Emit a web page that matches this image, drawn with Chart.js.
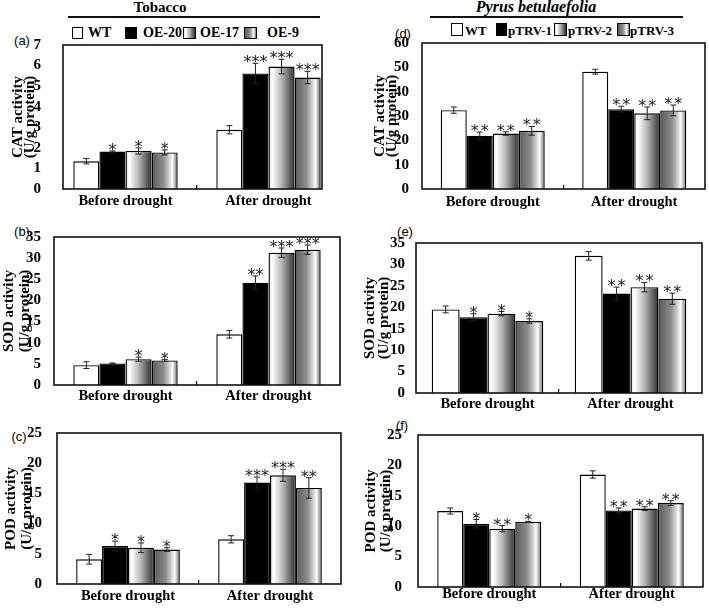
<!DOCTYPE html>
<html>
<head>
<meta charset="utf-8">
<script src="https://cdn.jsdelivr.net/npm/chart.js@4.4.1/dist/chart.umd.min.js"></script>
<style>
    html, body { margin: 0; padding: 0; background: #fff; }
    #fig { position: relative; width: 709px; height: 608px; overflow: hidden; font-family: 'Liberation Serif', 'Times New Roman', serif; }
    #fig canvas { position: absolute; left: 0; top: 0; }
    .txt { position: absolute; font-weight: bold; color: #000; white-space: nowrap; line-height: 1; transform: translate(0, -50%); }
    .mid { transform: translate(-50%, -50%); }
    .rule { position: absolute; height: 2px; background: #111; }
    .sw { position: absolute; border: 1px solid #000; box-sizing: border-box; }
    .tag { position: absolute; font-family: 'Liberation Sans', Arial, sans-serif; font-size: 13px; color: #000; line-height: 1; transform: translate(-50%, -50%); }
    .sweep { background: linear-gradient(to right, #e8e8e8 0%, #ffffff 15%, #b5b5b5 50%, #303030 100%); }
    .tube { background: linear-gradient(to right, #5a5a5a 0%, #8c8c8c 45%, #d8d8d8 70%, #ffffff 80%, #b0b0b0 90%, #6a6a6a 100%); }
</style>
</head>
<body>
<div id="fig">
    <div class="txt mid" style="left:160px;top:7px;font-size:15px">Tobacco</div>
    <div class="rule" style="left:68px;top:16px;width:252px"></div>
    <div class="txt mid" style="left:536px;top:7px;font-size:16px;font-style:italic">Pyrus betulaefolia</div>
    <div class="rule" style="left:430px;top:16px;width:253px"></div>

    <div class="sw" style="left:72px;top:27px;width:11px;height:12px;background:#fff"></div>
    <div class="txt" style="left:88px;top:33px;font-size:14px">WT</div>
    <div class="sw" style="left:125px;top:27px;width:12px;height:12px;background:#000"></div>
    <div class="txt" style="left:143px;top:33px;font-size:14px">OE-20</div>
    <div class="sw sweep" style="left:183px;top:27px;width:13px;height:12px"></div>
    <div class="txt" style="left:200px;top:33px;font-size:14px">OE-17</div>
    <div class="sw tube" style="left:244px;top:27px;width:13px;height:12px"></div>
    <div class="txt" style="left:267px;top:33px;font-size:14px">OE-9</div>

    <div class="sw" style="left:451px;top:23px;width:12px;height:13px;background:#fff"></div>
    <div class="txt" style="left:465px;top:30px;font-size:13px">WT</div>
    <div class="sw" style="left:496px;top:23px;width:11px;height:13px;background:#000"></div>
    <div class="txt" style="left:508px;top:30px;font-size:13px">pTRV-1</div>
    <div class="sw sweep" style="left:554px;top:23px;width:13px;height:13px"></div>
    <div class="txt" style="left:568px;top:30px;font-size:13px">pTRV-2</div>
    <div class="sw tube" style="left:617px;top:23px;width:13px;height:13px"></div>
    <div class="txt" style="left:630px;top:30px;font-size:13px">pTRV-3</div>

    <div class="tag" style="left:22px;top:40px">(a)</div>
    <div class="tag" style="left:22px;top:231px">(b)</div>
    <div class="tag" style="left:19px;top:436px">(c)</div>
    <div class="tag" style="left:403px;top:33px">(d)</div>
    <div class="tag" style="left:405px;top:231px">(e)</div>
    <div class="tag" style="left:402px;top:425px">(f)</div>
</div>

<script>
const groups = ['Before drought', 'After drought'];
const tobaccoLines = ['WT', 'OE-20', 'OE-17', 'OE-9'];
const pyrusLines = ['WT', 'pTRV-1', 'pTRV-2', 'pTRV-3'];

// one row per line: [before, after]
const catTobacco = [[1.35, 2.88], [1.82, 5.62], [1.85, 5.95], [1.78, 5.42]];
const catTobaccoErr = [[0.13, 0.2], [0.03, 0.49], [0.15, 0.35], [0.12, 0.3]];
const catTobaccoSig = [[0, 0], [1, 3], [1, 3], [1, 3]];

const sodTobacco = [[4.7, 12.0], [5.1, 24.2], [6.1, 31.3], [5.8, 32.0]];
const sodTobaccoErr = [[0.8, 0.9], [0.1, 1.6], [0.5, 1.1], [0.2, 1.1]];
const sodTobaccoSig = [[0, 0], [0, 2], [1, 3], [1, 3]];

const podTobacco = [[4.1, 7.4], [6.3, 16.8], [6.0, 18.0], [5.7, 15.9]];
const podTobaccoErr = [[0.8, 0.6], [0.8, 0.9], [0.8, 1.0], [0.3, 1.7]];
const podTobaccoSig = [[0, 0], [1, 3], [1, 3], [1, 2]];

const catPyrus = [[32.4, 48.2], [21.9, 32.8], [22.8, 31.1], [23.9, 32.3]];
const catPyrusErr = [[1.3, 1.0], [1.5, 1.2], [0.7, 2.6], [1.8, 2.2]];
const catPyrusSig = [[0, 0], [2, 2], [2, 2], [2, 2]];

const sodPyrus = [[19.5, 32.0], [17.7, 23.2], [18.5, 24.7], [16.8, 22.0]];
const sodPyrusErr = [[0.8, 1.0], [0.8, 1.5], [0.5, 1.1], [0.5, 1.3]];
const sodPyrusSig = [[0, 0], [1, 2], [1, 2], [1, 2]];

const podPyrus = [[12.5, 18.5], [10.4, 12.6], [9.6, 12.9], [10.7, 13.8]];
const podPyrusErr = [[0.5, 0.6], [0.7, 0.4], [0.5, 0.3], [0.1, 0.4]];
const podPyrusSig = [[0, 0], [1, 2], [2, 2], [1, 2]];

const sweepStops = [[0, '#e8e8e8'], [0.15, '#ffffff'], [0.5, '#b5b5b5'], [1, '#303030']];
const tubeStops = [[0, '#5a5a5a'], [0.45, '#8c8c8c'], [0.7, '#d8d8d8'], [0.8, '#ffffff'], [0.9, '#b0b0b0'], [1, '#6a6a6a']];

const serif = "'Liberation Serif', 'Times New Roman', serif";

// area = plot box [left, top, right, bottom] in page pixels
const panels = [
    { lines: tobaccoLines, values: catTobacco, errors: catTobaccoErr, stars: catTobaccoSig, title: ['CAT activity', '(U/g protein)'],
      yMax: 7, yStep: 1, area: [54, 45, 340, 189], inset: [9, 18], titleX: 18, titleGap: 12.5, tickPad: 5, labelPad: 8, pct: 0.73, starGap: 8 },
    { lines: tobaccoLines, values: sodTobacco, errors: sodTobaccoErr, stars: sodTobaccoSig, title: ['SOD activity', '(U/g protein)'],
      yMax: 35, yStep: 5, area: [54, 237, 340, 385], inset: [0, 0], titleX: 9, titleGap: 16.5, tickPad: 5, labelPad: 7, pct: 0.73, starGap: 8 },
    { lines: tobaccoLines, values: podTobacco, errors: podTobaccoErr, stars: podTobaccoSig, title: ['POD activity', '(U/g protein)'],
      yMax: 25, yStep: 5, area: [57, 433, 341, 584], inset: [0, 0], titleX: 11, titleGap: 16.5, tickPad: 7, labelPad: 8, pct: 0.73, starGap: 8 },
    { lines: pyrusLines, values: catPyrus, errors: catPyrusErr, stars: catPyrusSig, title: ['CAT activity', '(U/g protein)'],
      yMax: 60, yStep: 10, area: [422, 43, 705, 189], inset: [0, 0], titleX: 380, titleGap: 12, tickPad: 5, labelPad: 9, pct: 0.735, starGap: 10 },
    { lines: pyrusLines, values: sodPyrus, errors: sodPyrusErr, stars: sodPyrusSig, title: ['SOD activity', '(U/g protein)'],
      yMax: 35, yStep: 5, area: [416, 243, 702, 393], inset: [0, 0], titleX: 370, titleGap: 14.5, tickPad: 3, labelPad: 7, pct: 0.78, starGap: 10 },
    { lines: pyrusLines, values: podPyrus, errors: podPyrusErr, stars: podPyrusSig, title: ['POD activity', '(U/g protein)'],
      yMax: 25, yStep: 5, area: [418, 435, 703, 587], inset: [0, 0], titleX: 371.5, titleGap: 15, tickPad: 8, labelPad: 3, pct: 0.73, starGap: 10 }
];

function makeGradient(ctx, x0, x1, stops) {
    const g = ctx.createLinearGradient(x0, 0, x1, 0);
    stops.forEach(s => g.addColorStop(s[0], s[1]));
    return g;
}

const panelDecor = {
    id: 'panelDecor',
    beforeDatasetsDraw(chart) {
        // shaded bars need a gradient spanning each bar
        [2, 3].forEach(i => {
            const stops = i === 2 ? sweepStops : tubeStops;
            chart.getDatasetMeta(i).data.forEach(bar => {
                const x0 = bar.x - bar.width / 2;
                bar.options = Object.assign({}, bar.options, {
                    backgroundColor: makeGradient(chart.ctx, x0, x0 + bar.width, stops)
                });
            });
        });
    },
    afterDatasetsDraw(chart, args, opts) {
        const p = opts.panel;
        const ctx = chart.ctx;
        const y = chart.scales.y;
        ctx.save();
        chart.data.datasets.forEach((ds, i) => {
            chart.getDatasetMeta(i).data.forEach((bar, j) => {
                const v = p.values[i][j];
                const e = p.errors[i][j];
                const top = y.getPixelForValue(v + e);
                const bot = y.getPixelForValue(v - e);
                ctx.strokeStyle = '#222';
                ctx.lineWidth = 1;
                ctx.beginPath();
                ctx.moveTo(bar.x, top); ctx.lineTo(bar.x, bot);
                ctx.moveTo(bar.x - 3, top); ctx.lineTo(bar.x + 3, top);
                ctx.moveTo(bar.x - 3, bot); ctx.lineTo(bar.x + 3, bot);
                ctx.stroke();

                const n = p.stars[i][j];
                ctx.fillStyle = '#222';
                ctx.font = "16px 'DejaVu Sans', sans-serif";
                ctx.textAlign = 'center';
                ctx.textBaseline = 'alphabetic';
                for (let k = 0; k < n; k++) {
                    const sx = bar.x + (k - (n - 1) / 2) * p.starGap;
                    ctx.fillText('*', sx, top + 4);
                }
            });
        });
        ctx.restore();
    },
    afterDraw(chart, args, opts) {
        const p = opts.panel;
        const a = chart.chartArea;
        const ctx = chart.ctx;
        ctx.save();
        ctx.strokeStyle = '#111';
        ctx.lineWidth = 1.6;
        ctx.strokeRect(a.left + p.inset[0], a.top, a.width - p.inset[0] - p.inset[1], a.height);
        ctx.restore();
    }
};

function buildChart(p) {
    const canvas = document.createElement('canvas');
    canvas.width = 709;
    canvas.height = 608;
    document.getElementById('fig').appendChild(canvas);

    const [left, top, right, bottom] = p.area;
    const yWidth = left - (p.titleX - p.titleGap / 2);
    const xHeight = 20;

    return new Chart(canvas, {
        type: 'bar',
        data: {
            labels: groups,
            datasets: p.lines.map((name, i) => ({
                label: name,
                data: p.values[i],
                backgroundColor: i === 0 ? '#ffffff' : (i === 1 ? '#000000' : () => '#888888'),
                borderColor: '#000',
                borderWidth: 1.4,
                barPercentage: 1,
                categoryPercentage: p.pct
            }))
        },
        options: {
            responsive: false,
            animation: false,
            devicePixelRatio: 1,
            layout: {
                padding: { left: left - yWidth, top: top, right: 709 - right, bottom: 608 - bottom - xHeight }
            },
            plugins: {
                legend: { display: false },
                tooltip: { enabled: false },
                panelDecor: { panel: p }
            },
            scales: {
                x: {
                    offset: true,
                    border: { display: false },
                    grid: {
                        offset: true,
                        drawOnChartArea: false,
                        drawTicks: true,
                        tickLength: -4,
                        lineWidth: 1.2,
                        color: c => c.index === 1 ? '#000' : 'rgba(0,0,0,0)'
                    },
                    ticks: {
                        color: '#000',
                        padding: p.labelPad,
                        maxRotation: 0,
                        font: { family: serif, size: 14.5, weight: 'bold' }
                    },
                    afterFit: s => { s.height = xHeight; }
                },
                y: {
                    min: 0,
                    max: p.yMax,
                    border: { display: false },
                    grid: { display: false },
                    ticks: {
                        stepSize: p.yStep,
                        autoSkip: false,
                        color: '#000',
                        padding: p.tickPad,
                        font: { family: serif, size: 15, weight: 'bold' }
                    },
                    title: {
                        display: true,
                        text: p.title,
                        color: '#000',
                        padding: { top: 0, bottom: 0 },
                        font: { family: serif, size: 15, weight: 'bold', lineHeight: p.titleGap / 15 }
                    },
                    afterFit: s => { s.width = yWidth; }
                }
            }
        },
        plugins: [panelDecor]
    });
}

panels.forEach(buildChart);
</script>
</body>
</html>
